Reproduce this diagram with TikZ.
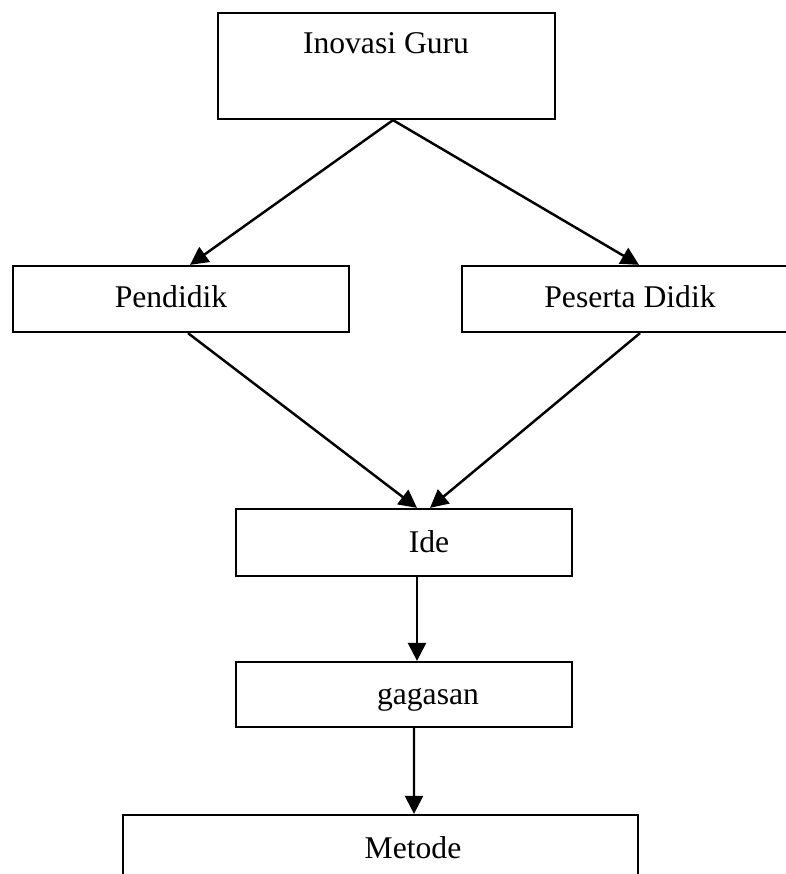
\documentclass[tikz,border=0pt]{standalone}
\usepackage{fontspec}
\setmainfont{Liberation Serif}
\usetikzlibrary{arrows.meta}

\begin{document}
\begin{tikzpicture}[x=0.02cm,y=-0.02cm,line width=1.3pt,
    box/.style={draw,rectangle,inner sep=0pt,minimum width=6.72cm},
    txt/.style={anchor=base,inner sep=0pt,font=\fontsize{18}{22}\selectfont},
    arr/.style={line width=1.4pt,-{Triangle[length=0.36cm,width=0.36cm]}}]
        \useasboundingbox (0,0) rectangle (786,874);
        \node[box,minimum width=6.74cm,minimum height=2.12cm] (guru) at (386.5,66) {};
        \node[box,minimum height=1.32cm] (pendidik) at (181,299) {};
        \node[box,minimum height=1.32cm] (peserta) at (630,299) {};
        \node[box,minimum height=1.34cm] (ide) at (404,542.5) {};
        \node[box,minimum height=1.3cm] (gagasan) at (404,694.5) {};
        \node[box,minimum width=10.3cm,minimum height=1.6cm] (metode) at (380.5,855) {};
        \node[txt] (tguru) at (386,54) {Inovasi Guru};
        \node[txt] (tpendidik) at (171,308) {Pendidik};
        \node[txt] (tpeserta) at (630,308) {Peserta Didik};
        \node[txt] (tide) at (429,552) {Ide};
        \node[txt] (tgagasan) at (428,704) {gagasan};
        \node[txt] (tmetode) at (413,858) {Metode};
        \draw[arr] ([xshift=0.13cm]guru.south) -- ([xshift=0.18cm]pendidik.north);
        \draw[arr] ([xshift=0.13cm]guru.south) -- ([xshift=0.18cm]peserta.north);
        \draw[arr] ([xshift=0.14cm]pendidik.south) -- ([xshift=0.26cm]ide.north);
        \draw[arr] ([xshift=0.2cm]peserta.south) -- ([xshift=0.52cm]ide.north);
        \draw[arr] ([xshift=0.26cm]ide.south) -- ([xshift=0.26cm]gagasan.north);
        \draw[arr] ([xshift=0.2cm]gagasan.south) -- ([xshift=0.67cm]metode.north);
      \end{tikzpicture}
\end{document}
